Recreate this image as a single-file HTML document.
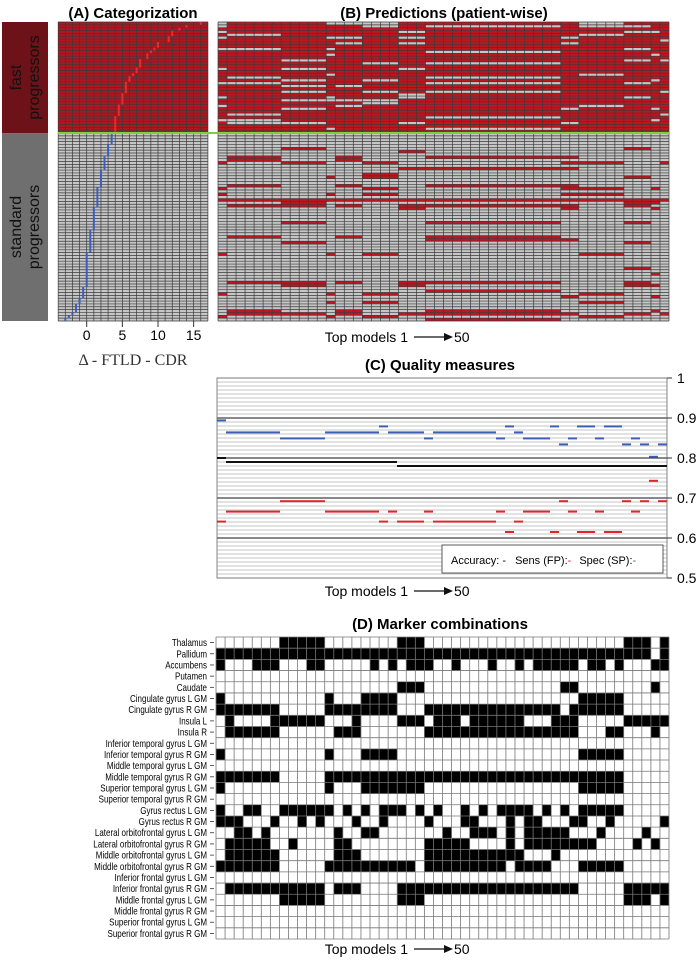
<!DOCTYPE html>
<html><head><meta charset="utf-8"><style>
html,body{margin:0;padding:0;background:#fff;}
svg{display:block;font-family:"Liberation Sans",sans-serif;}
</style></head><body>
<svg id="fig" width="700" height="963" viewBox="0 0 700 963" xmlns="http://www.w3.org/2000/svg">
<rect x="0" y="0" width="700" height="963" fill="#fff"/>
<text x="133" y="18" text-anchor="middle" font-size="15" font-weight="bold">(A) Categorization</text>
<text x="444" y="18" text-anchor="middle" font-size="15" font-weight="bold">(B) Predictions (patient-wise)</text>
<text x="440" y="370" text-anchor="middle" font-size="15" font-weight="bold">(C) Quality measures</text>
<text x="440" y="629" text-anchor="middle" font-size="15" font-weight="bold">(D) Marker combinations</text>
<g id="gA"></g><g id="gB"></g><g id="gC"></g><g id="gD"></g>
</svg>
<script>
// ---------- Panel A data ----------
const fastDelta=[16,14,13,12,12,11.5,11.5,10,10,9.5,9,8.5,8.5,7.5,7.5,7.5,7,7,6.5,6,6,5.5,5.5,5.5,5.5,5,5,5,5,4.5,4.5,4.5,4.5,4,4,4,4,4,4];
const stdDelta=[3.5,3.5,3.5,3.5,3,3,3,3,2.5,2.5,2.5,2.5,2.5,2,2,2,2,2,2,1.5,1.5,1.5,1.5,1.5,1.5,1.5,1,1,1,1,1,1,1,1,0.5,0.5,0.5,0.5,0.5,0.5,0.5,0.5,0,0,0,0,0,0,0,0,0,0,0,0,-0.5,-0.5,-0.5,-0.5,-1,-1,-1.5,-1.5,-1.5,-2,-2.5,-3];
const aTicks=[0,5,10,15];
// ---------- Panel B data (group-level predictions, 1 = predicted fast) ----------
const modelGroupSizes=[1,6,5,1,3,4,3,15,2,5,3,1,1];
const predFast=["0110001110111","0111101010011","1111111111111","0111110111001","1011111110111","0110010101111","1111111111110","1111010101111","1111111111111","0010111111011","1111111011111","1110111111101","1111111111111","1101111111010","1111101011111","1111111111111","0101110111111","1111111111111","1110111110111","1011111011111","1101101111101","0011111011011","1101011111111","1111111111111","1101101011110","1111110111111","0110110111011","1100001111111","1111101111111","0111011110111","1101111101101","1111111111111","1011111111110","1111111011111","0011111111101","1001110101111","1111111111111","1110111011111","1111111111111"];
const predStd=["0000000000000","0000000000000","0000000000000","0000000000000","0000000000000","0010000000100","0000001000000","0000000000000","0100100110000","0100100000000","1010010011001","0000000000000","0000001110000","0000000000000","0000010000000","0001010000100","0000000000000","0000000000000","0100100110000","1000010011010","0000000000000","1001010011000","0000000000000","1111111111111","0010000000110","0110101110100","0000001010010","0000000000000","0000000000000","0000000000000","0000000000000","0010000100100","0000000000000","0000000000000","0000000000000","0000000000000","0100100100000","0000000110000","0010000000100","0000000000000","0000000000000","0000000000000","1001010001000","0000000000000","0000000000000","0000000000000","0000000000000","0000000000100","0000000000000","0000000000010","0000000000000","0000000000000","0110101100100","0010001000110","0000000000000","0000000100000","1001010001000","0000000010010","0000000000000","0001010001000","0000000000000","0000000000000","0100100100010","0110101110101","1001010001000","0000000100000"];
// ---------- Panel C data ----------
const accuracy=[0.800,0.790,0.790,0.790,0.790,0.790,0.790,0.790,0.790,0.790,0.790,0.790,0.790,0.790,0.790,0.790,0.790,0.790,0.790,0.790,0.780,0.780,0.780,0.780,0.780,0.780,0.780,0.780,0.780,0.780,0.780,0.780,0.780,0.780,0.780,0.780,0.780,0.780,0.780,0.780,0.780,0.780,0.780,0.780,0.780,0.780,0.780,0.780,0.780,0.780];
const sensFP=[0.641,0.666,0.666,0.666,0.666,0.666,0.666,0.692,0.692,0.692,0.692,0.692,0.666,0.666,0.666,0.666,0.666,0.666,0.641,0.666,0.641,0.641,0.641,0.666,0.641,0.641,0.641,0.641,0.641,0.641,0.641,0.666,0.615,0.641,0.666,0.666,0.666,0.615,0.692,0.666,0.615,0.615,0.666,0.615,0.615,0.692,0.666,0.692,0.743,0.692];
const specSP=[0.894,0.864,0.864,0.864,0.864,0.864,0.864,0.849,0.849,0.849,0.849,0.849,0.864,0.864,0.864,0.864,0.864,0.864,0.879,0.864,0.864,0.864,0.864,0.849,0.864,0.864,0.864,0.864,0.864,0.864,0.864,0.849,0.879,0.864,0.849,0.849,0.849,0.879,0.834,0.849,0.879,0.879,0.849,0.879,0.879,0.834,0.849,0.834,0.803,0.834];
const cTicks=[1,0.9,0.8,0.7,0.6,0.5];
const cTickLabels=["1","0.9","0.8","0.7","0.6","0.5"];
// ---------- Panel D data (selected columns per marker, [start,end] ranges) ----------
const markers=["Thalamus","Pallidum","Accumbens","Putamen","Caudate","Cingulate gyrus L GM","Cingulate gyrus R GM","Insula L","Insula R","Inferior temporal gyrus L GM","Inferior temporal gyrus R GM","Middle temporal gyrus L GM","Middle temporal gyrus R GM","Superior temporal gyrus L GM","Superior temporal gyrus R GM","Gyrus rectus L GM","Gyrus rectus R GM","Lateral orbitofrontal gyrus L GM","Lateral orbitofrontal gyrus R GM","Middle orbitofrontal gyrus L GM","Middle orbitofrontal gyrus R GM","Inferior frontal gyrus L GM","Inferior frontal gyrus R GM","Middle frontal gyrus L GM","Middle frontal gyrus R GM","Superior frontal gyrus L GM","Superior frontal gyrus R GM"];
const selected=[
[[7,11],[20,22],[45,47],[49,49]],
[[0,47],[49,49]],
[[0,0],[4,6],[10,11],[17,17],[19,19],[21,23],[26,26],[30,30],[33,33],[35,39],[41,42],[44,44],[48,49]],
[],
[[20,22],[38,39],[48,48]],
[[0,0],[12,12],[16,19],[40,44]],
[[0,6],[12,19],[23,37],[39,44]],
[[1,1],[6,11],[15,15],[20,22],[24,26],[28,33],[37,39],[45,49]],
[[1,6],[13,15],[23,39],[43,44],[48,48]],
[],
[[0,0],[12,12],[16,19],[40,44]],
[],
[[0,6],[12,44]],
[[0,0],[12,12],[16,22],[40,44]],
[],
[[0,0],[3,4],[7,12],[14,14],[16,16],[18,20],[22,22],[24,24],[27,27],[29,29],[31,34],[36,36],[38,38],[40,44]],
[[0,2],[6,6],[9,9],[11,11],[15,15],[18,18],[23,23],[27,28],[32,32],[34,35],[39,40],[43,43],[49,49]],
[[2,3],[5,5],[13,13],[16,17],[25,25],[28,30],[32,32],[34,38],[42,42],[47,47]],
[[1,5],[8,8],[13,14],[23,27],[32,32],[34,41],[46,46],[48,48]],
[[1,6],[13,15],[23,33],[37,37]],
[[0,6],[12,21],[23,31],[33,36],[40,44]],
[],
[[1,11],[13,15],[20,39],[45,49]],
[[7,11],[20,22],[45,47],[49,49]],
[],[],[]
];
const NS="http://www.w3.org/2000/svg";
function mk(tag,attrs,parent){const e=document.createElementNS(NS,tag);for(const k in attrs)e.setAttribute(k,attrs[k]);parent.appendChild(e);return e;}

// ===== Panel A =====
(function(){
const g=document.getElementById('gA');
const nRows=fastDelta.length+stdDelta.length;
const top=22,bot=321,rh=(bot-top)/nRows;
const yB=top+fastDelta.length*rh;
const ax=v=>86.7+7.13*v;
const x0=58,x1=208;
let r=mk('rect',{x:2,y:top,width:46,height:yB-top,fill:'#6e1219'},g);


r=mk('rect',{x:2,y:yB,width:46,height:bot-yB,fill:'#6f6f6f'},g);


const t1=mk('text',{x:0,y:0,'font-size':16,'text-anchor':'middle',fill:'#111',transform:`translate(25,${(top+yB)/2}) rotate(-90)`},g);


mk('tspan',{x:0,dy:-4},t1).textContent='fast';
mk('tspan',{x:0,dy:18},t1).textContent='progressors';
const t2=mk('text',{x:0,y:0,'font-size':16,'text-anchor':'middle',fill:'#111',transform:`translate(25,${(yB+bot)/2}) rotate(-90)`},g);


mk('tspan',{x:0,dy:-4},t2).textContent='standard';
mk('tspan',{x:0,dy:18},t2).textContent='progressors';
r=mk('rect',{x:x0,y:top,width:x1-x0,height:yB-top,fill:'#b3141f'},g);


r=mk('rect',{x:x0,y:yB,width:x1-x0,height:bot-yB,fill:'#c6c6c6'},g);


let d='';
for(let i=0;i<=nRows;i++){const y=top+i*rh;d+=`M${x0} ${y}H${x1}`;}
for(let v=-4;v<=17;v++){const x=ax(v);if(x>=x0-0.5&&x<=x1+0.5)d+=`M${x} ${top}V${bot}`;}
const gl=mk('path',{d:d,stroke:'#3a3a3a','stroke-width':0.7,fill:'none'},g);


fastDelta.forEach((v,i)=>{
 const m=mk('rect',{x:ax(v)-1,y:top+i*rh,width:2,height:rh,fill:'#ee2a2a'},g);
 
 
});
stdDelta.forEach((v,i)=>{
 const m=mk('rect',{x:ax(v)-1,y:yB+i*rh,width:2,height:rh,fill:'#3b5fc4'},g);
 
 
});
aTicks.forEach(v=>{
 const tk=mk('line',{x1:ax(v),x2:ax(v),y1:bot,y2:bot+6,stroke:'#333','stroke-width':1},g);
 
 
 const tl=mk('text',{x:ax(v),y:340,'font-size':14,'text-anchor':'middle'},g);
 
 
 tl.textContent=String(v);
});
const xt=mk('text',{x:133,y:365,'font-size':16,'text-anchor':'middle','font-family':'"Liberation Serif",serif',fill:'#333'},g);


xt.textContent='Δ - FTLD - CDR';
})();

function topModels(g,cx,y,name){
 const t=mk('text',{x:cx-12,y:y,'font-size':14,'text-anchor':'end'},g);
 
 
 t.textContent='Top models  1';
 mk('line',{x1:cx-6,x2:cx+26,y1:y-5,y2:y-5,stroke:'#111','stroke-width':1.2},g);
 mk('path',{d:`M${cx+24} ${y-9}L${cx+33} ${y-5}L${cx+24} ${y-1}Z`,fill:'#111'},g);
 const t2=mk('text',{x:cx+34,y:y,'font-size':14},g);
 
 
 t2.textContent='50';
}

// ===== Panel B =====
(function(){
const g=document.getElementById('gB');
const rows=predFast.concat(predStd);
const nRows=rows.length;
const top=22,bot=321,x0=218,x1=669,rh=(bot-top)/nRows,cw=(x1-x0)/50;
const colVals=s=>{const out=[];s.split('').forEach((c,gi)=>{for(let k=0;k<modelGroupSizes[gi];k++)out.push(c);});return out;};
rows.forEach((s,i)=>{
 const vals=colVals(s);
 let j=0;
 while(j<vals.length){
  let k=j;while(k<vals.length&&vals[k]===vals[j])k++;
  const c=mk('rect',{x:x0+j*cw,y:top+i*rh,width:(k-j)*cw,height:rh,fill:vals[j]==='1'?'#c0141f':'#c6c6c6'},g);
  
  
  j=k;
 }
});
let d='';
for(let i=0;i<=nRows;i++){const y=top+i*rh;d+=`M${x0} ${y}H${x1}`;}
for(let c=0;c<=50;c++){const x=x0+c*cw;d+=`M${x} ${top}V${bot}`;}
const gl=mk('path',{d:d,stroke:'#3a3a3a','stroke-width':0.7,fill:'none'},g);


const yB=top+predFast.length*rh;
const gr=mk('line',{x1:58,x2:x1,y1:yB,y2:yB,stroke:'#7ccf3a','stroke-width':2},g);


topModels(g,420,342,'panel-b-x-label');
})();

// ===== Panel C =====
(function(){
const g=document.getElementById('gC');
const x0=217,x1=667,top=378,bot=578,cw=(x1-x0)/50;
const yv=v=>bot-(v-0.5)/0.5*(bot-top);
let d='';
for(let k=0;k<=50;k++){const y=bot-k*(bot-top)/50;d+=`M${x0} ${y}H${x1}`;}
const gl=mk('path',{d:d,stroke:'#8a8a8a','stroke-width':0.6,fill:'none'},g);


[0.6,0.7,0.8,0.9].forEach(v=>{
 const l=mk('line',{x1:x0,x2:x1,y1:yv(v),y2:yv(v),stroke:'#111','stroke-width':1},g);
 
 
});
const fr=mk('rect',{x:x0,y:top,width:x1-x0,height:bot-top,fill:'none',stroke:'#666','stroke-width':0.8},g);


function series(arr,color,name){
 arr.forEach((v,i)=>{
  const m=mk('rect',{x:x0+i*cw,y:yv(v)-1,width:cw,height:2,fill:color},g);
  
  
 });
}
series(specSP,'#3c5fb4','spec-mark');
series(sensFP,'#e0262a','sens-mark');
series(accuracy,'#111','accuracy-mark');
cTicks.forEach((v,i)=>{
 const tk=mk('line',{x1:x1,x2:x1+5,y1:yv(v),y2:yv(v),stroke:'#333','stroke-width':1},g);
 
 
 const tl=mk('text',{x:x1+10,y:yv(v)+5,'font-size':14},g);
 
 
 tl.textContent=cTickLabels[i];
});
const lg=mk('g',{},g);


mk('rect',{x:442,y:545,width:221,height:28,fill:'#fff',stroke:'#333','stroke-width':0.8},lg);
const lt=mk('text',{x:451,y:564,'font-size':11},lg);


const s1=mk('tspan',{},lt);s1.textContent='Accuracy: - ';
mk('tspan',{dx:6},lt).textContent='Sens (FP):';
const s2=mk('tspan',{fill:'#e0262a'},lt);s2.textContent='-';
mk('tspan',{dx:8},lt).textContent='Spec (SP):';
const s3=mk('tspan',{fill:'#3c5fb4'},lt);s3.textContent='-';
topModels(g,420,596,'panel-c-x-label');
})();

// ===== Panel D =====
(function(){
const g=document.getElementById('gD');
const x0=216,x1=669,top=637,bot=939;
const nR=markers.length,rh=(bot-top)/nR,cw=(x1-x0)/50;
selected.forEach((runs,i)=>{
 runs.forEach(rg=>{
  const c=mk('rect',{x:x0+rg[0]*cw,y:top+i*rh,width:(rg[1]-rg[0]+1)*cw,height:rh,fill:'#000'},g);
  
  
 });
});
let d='';
for(let i=0;i<=nR;i++){const y=top+i*rh;d+=`M${x0} ${y}H${x1}`;}
for(let c=0;c<=50;c++){const x=x0+c*cw;d+=`M${x} ${top}V${bot}`;}
const gl=mk('path',{d:d,stroke:'#777','stroke-width':0.8,fill:'none'},g);


markers.forEach((m,i)=>{
 const y=top+(i+0.5)*rh;
 mk('line',{x1:x0-6,x2:x0-2,y1:y,y2:y,stroke:'#333','stroke-width':0.8},g);
 const t=mk('text',{x:0,y:0,'font-size':10,'text-anchor':'end',transform:`translate(${x0-9},${y+3.5}) scale(0.8,1)`},g);
 
 
 t.textContent=m;
});
topModels(g,420,954,'panel-d-x-label');
})();
</script>
</body></html>
